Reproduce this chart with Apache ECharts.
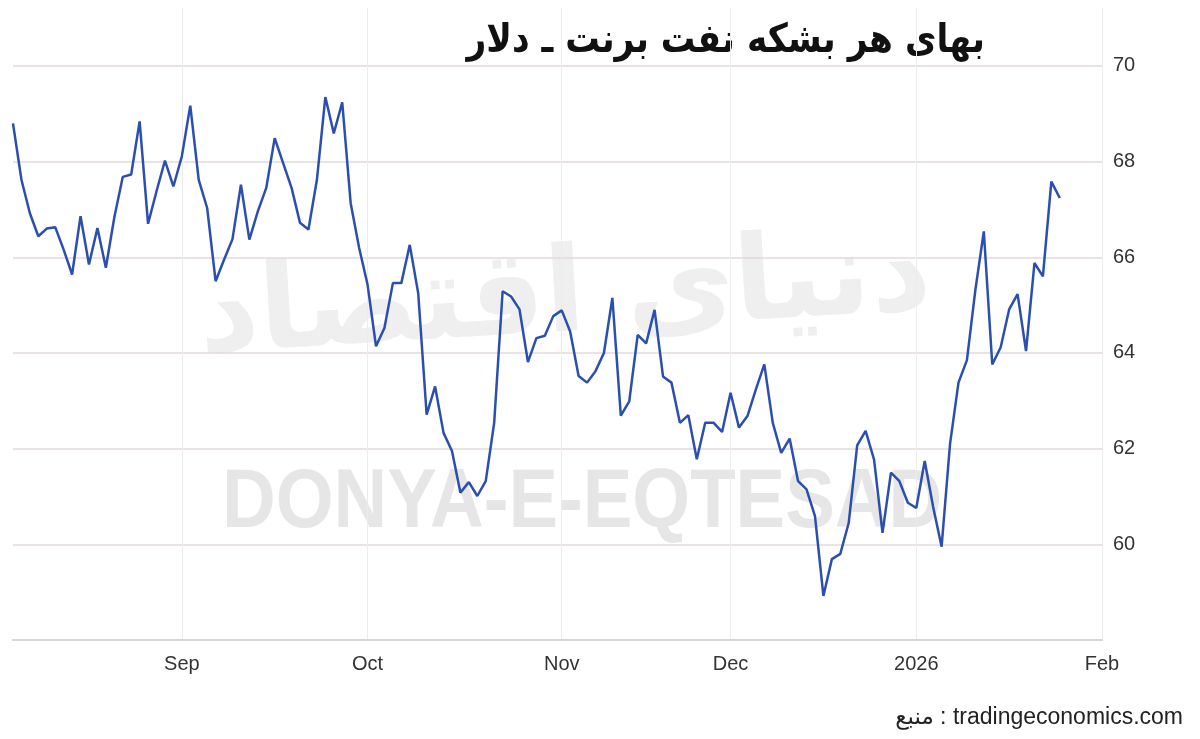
<!DOCTYPE html>
<html>
<head>
<meta charset="utf-8">
<script src="https://cdn.jsdelivr.net/npm/echarts@6/dist/echarts.min.js"></script>
<style>
html,body{margin:0;padding:0;background:#fff;}
#chart{width:1200px;height:739px;}
</style>
</head>
<body>
<div id="chart"></div>
<script>
// Brent crude, USD per barrel, daily (trading days)
var brentPrices = [
  68.80, 67.62, 66.92, 66.44, 66.60, 66.63, 66.16, 65.64, 66.86, 65.85,
  66.61, 65.78, 66.83, 67.68, 67.73, 68.84, 66.70, 67.38, 68.02, 67.48,
  68.11, 69.17, 67.62, 67.03, 65.50, 65.95, 66.38, 67.52, 66.37, 66.96,
  67.45, 68.49, 67.97, 67.45, 66.72, 66.58, 67.62, 69.35, 68.59, 69.24,
  67.13, 66.20, 65.43, 64.14, 64.52, 65.46, 65.46, 66.26, 65.25, 62.71,
  63.30, 62.33, 61.95, 61.08, 61.30, 61.01, 61.32, 62.54, 65.29, 65.18,
  64.91, 63.81, 64.31, 64.36, 64.77, 64.89, 64.45, 63.52, 63.38, 63.62,
  64.00, 65.15, 62.69, 62.99, 64.38, 64.20, 64.90, 63.51, 63.38, 62.54,
  62.70, 61.78, 62.54, 62.54, 62.35, 63.17, 62.44, 62.68, 63.24, 63.76,
  62.54, 61.91, 62.21, 61.32, 61.15, 60.59, 58.92, 59.69, 59.80, 60.45,
  62.07, 62.37, 61.77, 60.24, 61.50, 61.32, 60.87, 60.76, 61.74, 60.78,
  59.95, 62.10, 63.38, 63.85, 65.32, 66.54, 63.76, 64.12, 64.91, 65.23,
  64.04, 65.88, 65.60, 67.58, 67.24
];
// calendar: first and last day of the axis, and non-trading days skipped
var axisStart = '2025-08-04';
var axisEnd = '2026-02-02';
var skippedDays = ['2025-12-25'];
// month tick labels (first trading day of each month)
var monthTickLabels = {'2025-09':'Sep','2025-10':'Oct','2025-11':'Nov','2025-12':'Dec','2026-01':'2026','2026-02':'Feb'};
var yTicks = [60, 62, 64, 66, 68, 70];

var titleText = 'بهای هر بشکه نفت برنت ـ دلار';
var sourceText = 'منبع : tradingeconomics.com';

function pad(n){return (n<10?'0':'')+n;}
var dates = [];
(function(){
  var d = new Date(axisStart+'T12:00:00Z');
  var end = new Date(axisEnd+'T12:00:00Z');
  while (d <= end) {
    var wd = d.getUTCDay();
    var s = d.getUTCFullYear()+'-'+pad(d.getUTCMonth()+1)+'-'+pad(d.getUTCDate());
    if (wd !== 0 && wd !== 6 && skippedDays.indexOf(s) < 0) dates.push(s);
    d = new Date(d.getTime()+86400000);
  }
})();
var monthStartIdx = {};
var seen = {};
dates.forEach(function(s, i){
  var m = s.slice(0,7);
  if (!seen[m]) { seen[m] = true; if (monthTickLabels[m]) monthStartIdx[i] = monthTickLabels[m]; }
});
var seriesData = dates.map(function(s, i){ return i < brentPrices.length ? brentPrices[i] : null; });

var chart = echarts.init(document.getElementById('chart'), null, {renderer:'canvas'});
var gridC = '#e2dada';
chart.setOption({
  animation: false,
  backgroundColor: '#ffffff',
  grid: {left: 13, right: 98, top: 8, bottom: 99, containLabel: false},
  xAxis: {
    type: 'category',
    data: dates,
    boundaryGap: false,
    axisLine: {show: true, lineStyle: {color: '#d6d6d6', width: 2}},
    axisTick: {show: false},
    axisLabel: {
      interval: function(i){ return monthStartIdx[i] !== undefined; },
      formatter: function(v, i){ return monthStartIdx[i] || ''; },
      color: '#333', fontSize: 20, fontFamily: 'Liberation Sans, Arial, sans-serif', margin: 14
    },
    splitLine: {show: true, interval: function(i){ return monthStartIdx[i] !== undefined; },
      lineStyle: {color: '#ececec', width: 1}}
  },
  yAxis: {
    type: 'value',
    position: 'right',
    min: 58,
    max: 70 + 58/47.9,
    interval: 2,
    axisLine: {show: false},
    axisTick: {show: false},
    axisLabel: {
      showMinLabel: false, showMaxLabel: false,
      formatter: function(v){ return yTicks.indexOf(v) >= 0 ? String(v) : ''; },
      color: '#333', fontSize: 20, fontFamily: 'Liberation Sans, Arial, sans-serif', margin: 11
    },
    splitLine: {show: true, lineStyle: {color: ['rgba(0,0,0,0)', gridC, gridC, gridC, gridC, gridC, gridC, 'rgba(0,0,0,0)'], width: 1.5}}
  },
  graphic: [
    {type: 'text', z: -5, x: 565, y: 300, rotation: 0.06,
      style: {text: 'دنیای اقتصاد', x: 0, y: 0, align: 'center', verticalAlign: 'middle',
        fill: '#efefef', font: 'bold 118px "DejaVu Sans", sans-serif'}},
    {type: 'text', z: -5, left: 222, top: 462, scaleX: 0.885,
      style: {text: 'DONYA-E-EQTESAD', fill: '#e6e6e6', font: 'bold 84px "Liberation Sans", Arial, sans-serif'}},
    {type: 'text', x: 985, y: 42, scaleX: 0.86,
      style: {text: titleText, x: 0, y: 0, align: 'right', verticalAlign: 'middle',
        fill: '#111', font: 'bold 40px "DejaVu Sans", sans-serif',
        shadowColor: 'rgba(0,0,0,0.35)', shadowBlur: 2, shadowOffsetX: 1, shadowOffsetY: 1}},
    {type: 'text', x: 1183, y: 718,
      style: {text: sourceText, x: 0, y: 0, align: 'right', verticalAlign: 'middle',
        fill: '#222', font: '23px "Liberation Sans", "DejaVu Sans", sans-serif'}}
  ],
  series: [{
    type: 'line',
    data: seriesData,
    showSymbol: false,
    symbol: 'none',
    connectNulls: false,
    lineStyle: {color: '#2b4fae', width: 2.5},
    z: 5
  }]
});
</script>
</body>
</html>
